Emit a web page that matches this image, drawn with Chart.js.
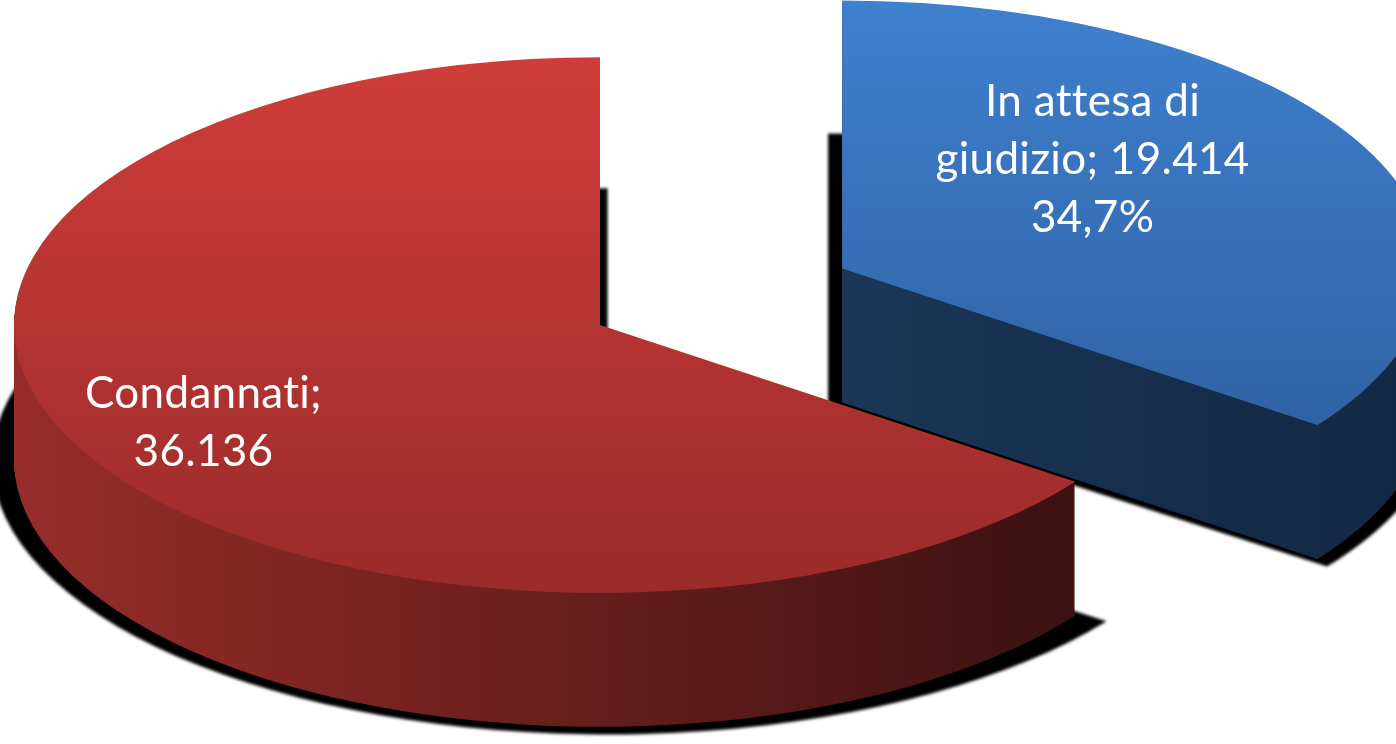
<!DOCTYPE html>
<html>
<head>
<meta charset="utf-8">
<script src="https://cdn.jsdelivr.net/npm/chart.js@4.4.1/dist/chart.umd.min.js"></script>
<style>
  html, body { margin: 0; padding: 0; background: #ffffff; }
  #canvasBox { width: 1396px; height: 744px; }
</style>
</head>
<body>
<div id="canvasBox"><canvas id="pieChart"></canvas></div>
<script>
const labels = ["In attesa di giudizio", "Condannati"];
const values = [19414, 36136];
const percentLabels = ["34,7%", ""];

// look of the tilted pie
const radius = 586;
const tilt = 0.457;
const depth = 134;
const explode = [272, 0];
const topColors = [["#3f80cf", "#2c5b98"], ["#cf3d39", "#9a2b2a"]];
const sideColors = [["#1b3657", "#132843"], ["#972d2a", "#3b1111"]];
const labelFont = "44px Lato";
const lineHeight = 58;
const labelWrap = [340, 260];
const labelReach = [0.48, 0.76];
const labelShiftY = [-50, 5];

function fmt(n) {
  return String(n).replace(/\B(?=(\d{3})+(?!\d))/g, ".");
}

function slideOf(arc, i) {
  const mid = (arc.startAngle + arc.endAngle) / 2;
  return {
    mid,
    ex: Math.cos(mid) * explode[i],
    ey: Math.sin(mid) * explode[i] * tilt
  };
}

// sector outline on the squashed plane, cx/cy = screen position of the tip
function traceSector(ctx, arc, cx, cy, scale = 1, ax = cx, ay = cy, sy = 1) {
  ctx.save();
  ctx.translate(ax, ay);
  ctx.scale(scale, sy);
  ctx.translate(-ax, -ay);
  ctx.translate(cx, cy);
  ctx.scale(1, tilt);
  ctx.beginPath();
  ctx.moveTo(0, 0);
  ctx.arc(0, 0, arc.outerRadius, arc.startAngle, arc.endAngle);
  ctx.closePath();
  ctx.restore();
}

const pie3d = {
  id: "pie3d",
  beforeDatasetsDraw(chart) {
    const ctx = chart.ctx;
    const arcs = chart.getDatasetMeta(0).data;

    // dark drop shadows under each slice
    arcs.forEach((arc, i) => {
      const { mid, ex, ey } = slideOf(arc, i);
      const half = (arc.endAngle - arc.startAngle) / 2;
      const c = 2 * arc.outerRadius * Math.sin(half) / (3 * half);
      const gx = arc.x + ex + Math.cos(mid) * c;
      const gy = arc.y + ey + depth + Math.sin(mid) * c * tilt;
      ctx.save();
      ctx.filter = "blur(1.5px)";
      traceSector(ctx, arc, arc.x + ex, arc.y + ey + depth + 3, 1.05, gx, gy, 1.02);
      ctx.fillStyle = "#000000";
      ctx.fill();
      ctx.restore();
    });

    arcs.forEach((arc, i) => {
      const { ex, ey } = slideOf(arc, i);
      const tipX = arc.x + ex;
      const tipY = arc.y + ey;

      // walls: the sector stacked from the bottom up
      let minX = tipX, maxX = tipX;
      for (let a = arc.startAngle; a <= arc.endAngle; a += 0.01) {
        const px = tipX + Math.cos(a) * arc.outerRadius;
        minX = Math.min(minX, px);
        maxX = Math.max(maxX, px);
      }
      const wall = ctx.createLinearGradient(minX, 0, Math.min(maxX, 1396), 0);
      wall.addColorStop(0, sideColors[i][0]);
      wall.addColorStop(1, sideColors[i][1]);
      ctx.save();
      ctx.fillStyle = wall;
      for (let d = depth; d > 0; d--) {
        traceSector(ctx, arc, tipX, tipY + d);
        ctx.fill();
      }
      ctx.restore();

      // top face from the arc element itself
      ctx.save();
      ctx.translate(tipX, tipY);
      ctx.scale(1, tilt);
      ctx.translate(-arc.x, -arc.y);
      arc.draw(ctx);
      ctx.restore();
    });
    return false;
  },
  afterDraw(chart) {
    const ctx = chart.ctx;
    const arcs = chart.getDatasetMeta(0).data;
    ctx.save();
    ctx.font = labelFont;
    ctx.letterSpacing = "0.3px";
    ctx.fillStyle = "#ffffff";
    ctx.textAlign = "center";
    ctx.textBaseline = "middle";
    arcs.forEach((arc, i) => {
      const { mid, ex, ey } = slideOf(arc, i);
      const r = arc.outerRadius * labelReach[i];
      const x = arc.x + ex + Math.cos(mid) * r;
      const y = arc.y + ey + Math.sin(mid) * r * tilt + labelShiftY[i];

      // wrap "name; value" like the spreadsheet label
      const words = (labels[i] + "; " + fmt(values[i])).split(" ");
      const lines = [];
      let line = "";
      words.forEach(w => {
        const test = line ? line + " " + w : w;
        if (line && ctx.measureText(test).width > labelWrap[i]) {
          lines.push(line);
          line = w;
        } else {
          line = test;
        }
      });
      lines.push(line);
      if (percentLabels[i]) lines.push(percentLabels[i]);

      const top = y - (lines.length - 1) * lineHeight / 2;
      lines.forEach((t, k) => ctx.fillText(t, x, top + k * lineHeight));
    });
    ctx.restore();
  }
};

const ctx = document.getElementById("pieChart").getContext("2d");
const pieChart = new Chart(ctx, {
  type: "pie",
  data: {
    labels,
    datasets: [
      {
        data: values,
        borderWidth: 0,
        backgroundColor(c) {
          const area = c.chart.chartArea;
          if (!area) return topColors[c.dataIndex][0];
          const cy = (area.top + area.bottom) / 2;
          const g = c.chart.ctx.createLinearGradient(0, cy - radius, 0, cy + radius);
          g.addColorStop(0, topColors[c.dataIndex][0]);
          g.addColorStop(1, topColors[c.dataIndex][1]);
          return g;
        },
      },
    ],
  },
  options: {
    responsive: true,
    maintainAspectRatio: false,
    animation: false,
    events: [],
    radius: radius,
    rotation: 0,
    layout: {
      padding: { left: 0, top: 0, right: 196, bottom: 94 },
    },
    plugins: {
      legend: { display: false },
      tooltip: { enabled: false },
    },
  },
  plugins: [pie3d],
});
</script>
</body>
</html>
